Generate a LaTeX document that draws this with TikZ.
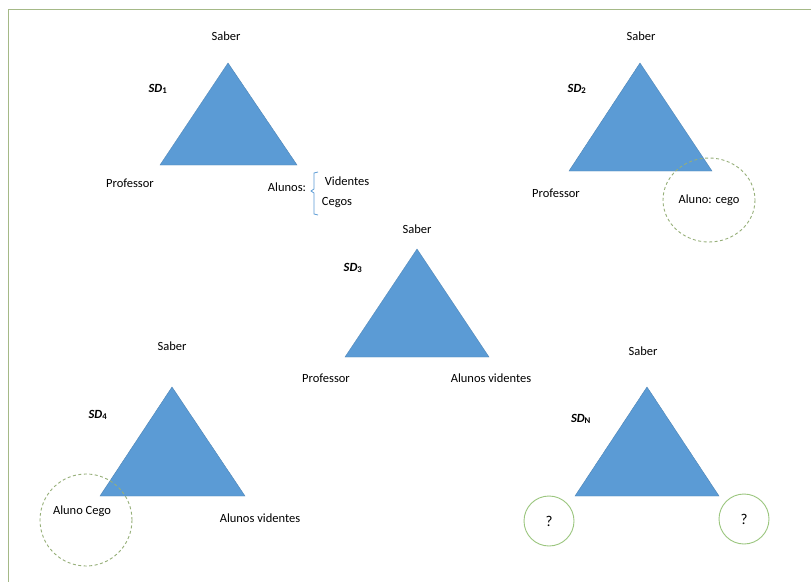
\documentclass[tikz,border=0pt]{standalone}
\usepackage{fontspec}
\setmainfont{Carlito}
\definecolor{triblue}{RGB}{91,155,213}
\definecolor{framegreen}{RGB}{165,185,135}
\definecolor{dashgreen}{RGB}{150,175,120}
\definecolor{qgreen}{RGB}{112,173,71}
\newcommand{\sdsub}[1]{\textsubscript{\upshape\bfseries #1}}
\begin{document}
\begin{tikzpicture}[x=1pt,y=-1pt,
  tri/.style={fill=triblue,draw=triblue!85!black,line width=0.4pt},
  lbl/.style={font=\fontsize{12.5}{14}\selectfont,inner sep=1pt},
  sdlbl/.style={font=\fontsize{12.5}{14}\selectfont\bfseries\itshape,inner sep=1pt},
  dashc/.style={draw=dashgreen,dashed,line width=0.9pt,dash pattern=on 3pt off 2.5pt},
  qc/.style={draw=qgreen!70,line width=0.9pt,circle,minimum size=50pt,inner sep=0pt,font=\fontsize{15}{17}\selectfont}]
\useasboundingbox (0,0) rectangle (811,581);
\fill[white] (0,0) rectangle (811,581);
\draw[framegreen,line width=1pt] (8.5,590) -- (8.5,9.5) -- (820,9.5);

% SD1
\coordinate (a1) at (228,63); \coordinate (b1) at (160,165); \coordinate (c1) at (297,165);
\fill[tri] (a1) -- (b1) -- (c1) -- cycle;
\node[lbl] (s1) at (226,36) {Saber};
\node[sdlbl] (sd1) at (158,89) {SD\sdsub{1}};
\node[lbl] (p1) at (130,183) {Professor};
\node[lbl] (al1) at (287,187) {Alunos:};
\node[lbl] (v1) at (347,181) {Videntes};
\node[lbl] (cg1) at (337,203) {Cegos};
\draw[triblue,line width=0.8pt] (318,172) -- (314,173) -- (314,189) -- (311,191) -- (314,193) -- (314,214) -- (318,215);

% SD2
\coordinate (a2) at (640,63); \coordinate (b2) at (569,171); \coordinate (c2) at (712,171);
\fill[tri] (a2) -- (b2) -- (c2) -- cycle;
\node[lbl] (s2) at (641,36) {Saber};
\node[sdlbl] (sd2) at (577,89) {SD\sdsub{2}};
\node[lbl] (p2) at (556,193) {Professor};
\draw[dashc] (709,200) ellipse [x radius=46, y radius=42];
\node[lbl] (ac2) at (709,200) {Aluno: cego};

% SD3
\coordinate (a3) at (417,249); \coordinate (b3) at (345,357); \coordinate (c3) at (489,357);
\fill[tri] (a3) -- (b3) -- (c3) -- cycle;
\node[lbl] (s3) at (417,229) {Saber};
\node[sdlbl] (sd3) at (353,268) {SD\sdsub{3}};
\node[lbl] (p3) at (326,378) {Professor};
\node[lbl] (av3) at (491,378) {Alunos videntes};

% SD4
\coordinate (a4) at (172,387); \coordinate (b4) at (100,496); \coordinate (c4) at (245,496);
\fill[tri] (a4) -- (b4) -- (c4) -- cycle;
\node[lbl] (s4) at (172,346) {Saber};
\node[sdlbl] (sd4) at (98,415) {SD\sdsub{4}};
\draw[dashc] (86,520) ellipse [x radius=46, y radius=46];
\node[lbl] (ac4) at (82,511) {Aluno Cego};
\node[lbl] (av4) at (260,518) {Alunos videntes};

% SDN
\coordinate (a5) at (647,387); \coordinate (b5) at (575,496); \coordinate (c5) at (719,496);
\fill[tri] (a5) -- (b5) -- (c5) -- cycle;
\node[lbl] (s5) at (643,351) {Saber};
\node[sdlbl] (sd5) at (581,419) {SD\sdsub{N}};
\node[qc] (q1) at (549,521) {?};
\node[qc] (q2) at (744,519) {?};
\end{tikzpicture}
\end{document}
